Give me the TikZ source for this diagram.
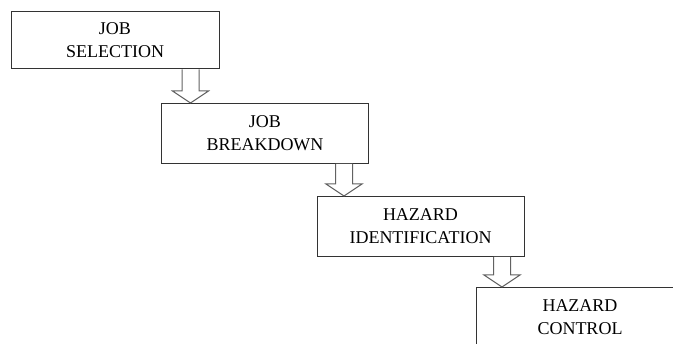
\documentclass[tikz,border=0pt]{standalone}
\usepackage{fontspec}
\setmainfont{Liberation Serif}
\usetikzlibrary{positioning,calc}
\usepackage{xcolor}
\definecolor{boxline}{HTML}{333333}
\definecolor{arrowline}{HTML}{626262}

\tikzset{
  stepbox/.style={draw=boxline, line width=1pt, fill=white,
    minimum width=207pt, minimum height=60pt, inner sep=0pt,
    align=center, font=\fontsize{18}{23}\selectfont},
  fatarrow/.style={draw=arrowline, line width=1pt, fill=white, line join=miter}
}

\begin{document}
\begin{tikzpicture}[x=1pt, y=1pt]
  \useasboundingbox (0,0) rectangle (673,-344);
  \clip (0,0) rectangle (673,-344);

  % Steps, each one down and to the right of the last
  \node[stepbox, minimum width=208pt, minimum height=57pt] (jobsel) at (115,-40.5)  {JOB\\SELECTION};
  \node[stepbox] (jobbrk) at (265,-133.5) {JOB\\BREAKDOWN};
  \node[stepbox] (hazid)  at (420.5,-226.5) {HAZARD\\IDENTIFICATION};
  \node[stepbox] (hazctl) at (580,-317.5) {HAZARD\\CONTROL};

  % Hollow block arrows between the steps
  \foreach \from/\to/\ax in {jobsel/jobbrk/190.5, jobbrk/hazid/344, hazid/hazctl/502}
    \draw[fatarrow] let \p1=(\from.south), \p2=(\to.north) in
      (\ax-8.5,\y1) -- (\ax-8.5,\y2+12) -- (\ax-18,\y2+12) -- (\ax,\y2)
      -- (\ax+18,\y2+12) -- (\ax+8.5,\y2+12) -- (\ax+8.5,\y1);
\end{tikzpicture}
\end{document}
